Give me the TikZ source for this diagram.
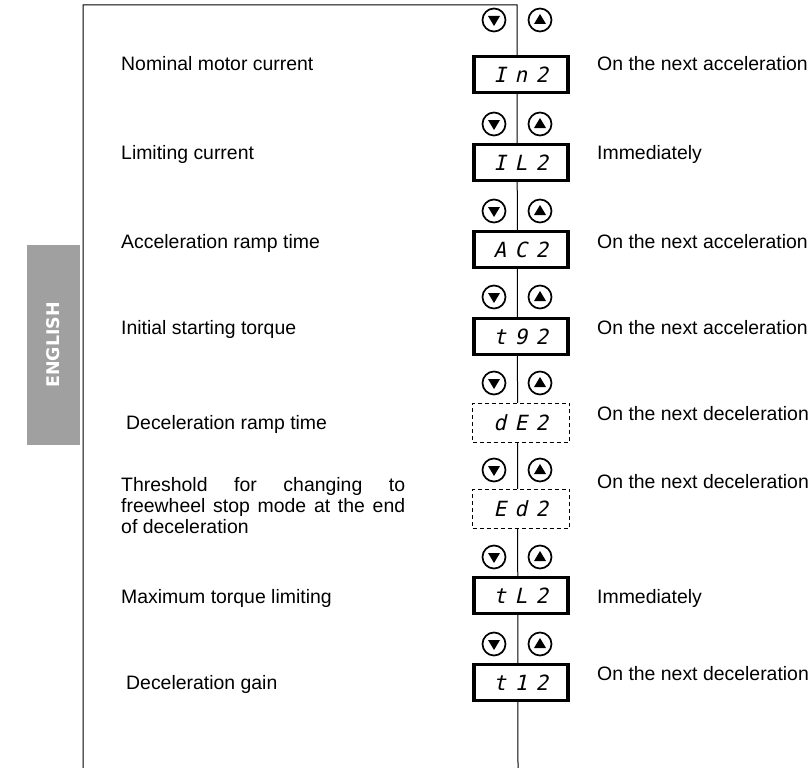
\documentclass[tikz,border=0pt]{standalone}
\usepackage{fontspec}
\setmainfont{Liberation Sans}
\newfontfamily\segfont{DejaVu Sans Mono}[FakeSlant=0.22,LetterSpace=40]
\newfontfamily\tabfont{DejaVu Sans}
\definecolor{tabgray}{RGB}{160,160,160}
\newcommand\downtri[1]{\fill ([shift={(-6,-4)}]#1.center) -- ([shift={(6,-4)}]#1.center) -- ([shift={(0,6)}]#1.center) -- cycle;}
\newcommand\uptri[1]{\fill ([shift={(-6,4)}]#1.center) -- ([shift={(6,4)}]#1.center) -- ([shift={(0,-6)}]#1.center) -- cycle;}
\begin{document}
\begin{tikzpicture}[x=1bp,y=-1bp,
  lab/.style={anchor=base west,inner sep=0,font=\fontsize{19.5}{21.5}\selectfont},
  disp/.style={draw,line width=3.4bp,fill=white,minimum width=94bp,minimum height=36bp,inner sep=0,font=\segfont\fontsize{21}{21}\selectfont},
  dispdash/.style={disp,line width=0.9bp,dash pattern=on 4bp off 3bp,minimum width=97bp,minimum height=39bp},
  btn/.style={circle,draw,line width=1.7bp,minimum size=23bp,inner sep=0,fill=white},
  frame/.style={line width=1bp}]
\useasboundingbox (0,0) rectangle (810,768);
% side tab
\node (tab) [fill=tabgray,rotate=90,minimum width=200bp,minimum height=53bp,inner sep=0,text=white,font=\tabfont\bfseries\fontsize{17.5}{17.5}\selectfont] at (53.5,345) {ENGLISH};
% frame and spine
\coordinate (fbl) at (83,768);
\coordinate (ftl) at (83,5);
\coordinate (stop) at (517,5);
\coordinate (sbot) at (518,768);
\draw[frame] (fbl) -- (ftl) -- (stop) -- (sbot);
% buttons
\foreach \i/\y in {1/20,2/124,3/211,4/297,5/383,6/470,7/557,8/644}{
  \node[btn] (dn\i) at (494,\y) {};
  \node[btn] (up\i) at (540,\y) {};
  \downtri{dn\i}
  \uptri{up\i}
}
% displays
\node[disp] (b1) at (521,74.5) {In2};
\node[disp] (b2) at (521,162.5) {IL2};
\node[disp] (b3) at (521,249.5) {AC2};
\node[disp] (b4) at (521,336.5) {t92};
\node[dispdash] (b5) at (521,422.5) {dE2};
\node[dispdash] (b6) at (521,508.5) {Ed2};
\node[disp] (b7) at (521,595.5) {tL2};
\node[disp] (b8) at (521,682.5) {t12};
% left labels
\node[lab] (l1) at (121,71) {Nominal motor current};
\node[lab] (l2) at (121,159) {Limiting current};
\node[lab] (l3) at (121,248) {Acceleration ramp time};
\node[lab] (l4) at (121,334) {Initial starting torque};
\node[lab] (l5) at (126,429) {Deceleration ramp time};
\node[lab] (l6) at (121,491) {\parbox[t]{284bp}{\hyphenpenalty=10000\noindent Threshold for changing to\linebreak freewheel stop mode at the end\linebreak of deceleration}};
\node[lab] (l7) at (121,603) {Maximum torque limiting};
\node[lab] (l8) at (126,689) {Deceleration gain};
% right labels
\node[lab] (r1) at (597,71) {On the next acceleration};
\node[lab] (r2) at (597,159) {Immediately};
\node[lab] (r3) at (597,248) {On the next acceleration};
\node[lab] (r4) at (597,334) {On the next acceleration};
\node[lab] (r5) at (597,420) {On the next deceleration};
\node[lab] (r6) at (597,488) {On the next deceleration};
\node[lab] (r7) at (597,603) {Immediately};
\node[lab] (r8) at (597,680) {On the next deceleration};
\end{tikzpicture}
\end{document}
